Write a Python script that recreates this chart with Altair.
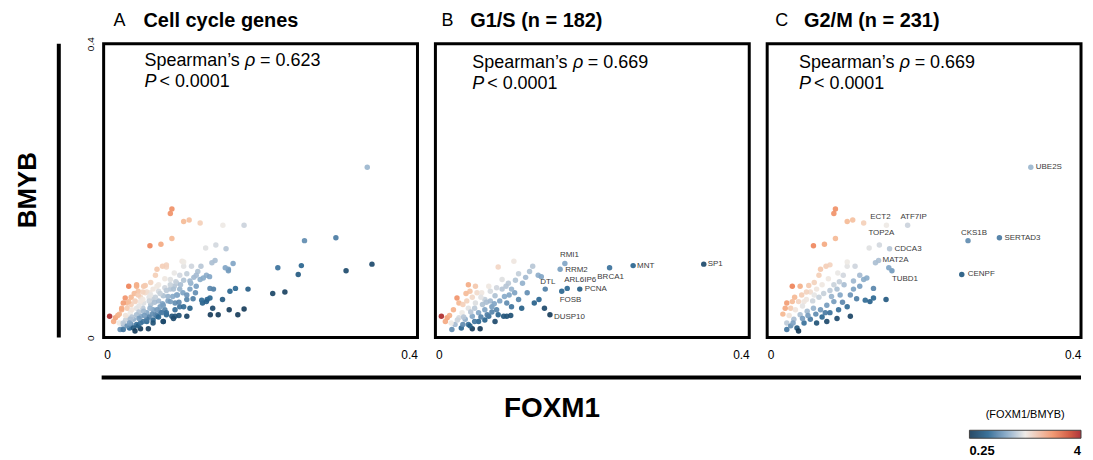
import altair as alt
import pandas as pd

FONT = "Liberation Sans"
W, H = 315, 295

# ---------------- data ----------------
# G1/S genes (panel B); first entries are the labelled genes
g1s_labels = ["SP1", "MNT", "BRCA1", "RMI1", "RRM2", "ARL6IP6", "PCNA", "FOSB", "DTL", "DUSP10"]
g1s_foxm1 = [0.342, 0.252, 0.222, 0.165, 0.159, 0.168, 0.184, 0.161, 0.140, 0.146,
             0.100, 0.080, 0.124, 0.131, 0.135, 0.106, 0.111, 0.117, 0.126, 0.132,
             0.139, 0.110, 0.097, 0.091, 0.042, 0.051, 0.044, 0.053, 0.0275, 0.030,
             0.023, 0.0076, 0.015, 0.0127, 0.021, 0.033, 0.047, 0.057, 0.068, 0.078,
             0.087, 0.096, 0.091, 0.101, 0.085, 0.076, 0.063, 0.059, 0.068, 0.085,
             0.093, 0.097, 0.051, 0.042, 0.034, 0.038, 0.047, 0.055, 0.063, 0.072,
             0.025, 0.030, 0.042, 0.055, 0.063, 0.076, 0.080, 0.106, 0.020, 0.018,
             0.035, 0.040, 0.036, 0.045, 0.050, 0.060, 0.065, 0.070, 0.075, 0.082,
             0.088, 0.094, 0.072, 0.066, 0.058, 0.050, 0.044, 0.035, 0.028, 0.070,
             0.078, 0.090, 0.102, 0.115, 0.120, 0.058, 0.047, 0.039]
g1s_bmyb = [0.100, 0.098, 0.095, 0.101, 0.093, 0.067, 0.066, 0.063, 0.066, 0.031,
            0.104, 0.096, 0.097, 0.085, 0.083, 0.087, 0.074, 0.061, 0.047, 0.052,
            0.040, 0.040, 0.042, 0.029, 0.072, 0.070, 0.063, 0.061, 0.054, 0.047,
            0.038, 0.029, 0.027, 0.022, 0.011, 0.013, 0.012, 0.012, 0.029, 0.038,
            0.029, 0.030, 0.047, 0.061, 0.066, 0.057, 0.052, 0.061, 0.070, 0.079,
            0.074, 0.066, 0.047, 0.040, 0.034, 0.025, 0.029, 0.034, 0.038, 0.042,
            0.018, 0.027, 0.018, 0.022, 0.024, 0.022, 0.031, 0.052, 0.020, 0.030,
            0.045, 0.050, 0.028, 0.035, 0.040, 0.045, 0.048, 0.050, 0.046, 0.050,
            0.056, 0.058, 0.035, 0.031, 0.028, 0.022, 0.016, 0.018, 0.024, 0.063,
            0.068, 0.070, 0.078, 0.082, 0.090, 0.055, 0.055, 0.060]

# G2/M genes (panel C); first entries are the labelled genes
g2m_labels = ["UBE2S", "SERTAD3", "CKS1B", "CENPF", "ECT2", "ATF7IP", "TOP2A", "CDCA3", "MAT2A", "TUBD1"]
g2m_foxm1 = [0.336, 0.296, 0.256, 0.248, 0.152, 0.179, 0.143, 0.156, 0.142, 0.159,
             0.130, 0.155, 0.138, 0.087, 0.085, 0.102, 0.109, 0.123, 0.087, 0.059,
             0.073, 0.080, 0.075, 0.068, 0.066, 0.102, 0.097, 0.112, 0.118, 0.123,
             0.110, 0.032, 0.042, 0.053, 0.044, 0.055, 0.063, 0.025, 0.032, 0.023,
             0.040, 0.047, 0.089, 0.093, 0.106, 0.114, 0.125, 0.131, 0.085, 0.076,
             0.068, 0.059, 0.051, 0.042, 0.034, 0.025, 0.030, 0.038, 0.047, 0.055,
             0.063, 0.076, 0.089, 0.106, 0.091, 0.102, 0.074, 0.040, 0.025, 0.1355,
             0.1355, 0.127, 0.1515, 0.102, 0.030, 0.036, 0.045, 0.050, 0.058, 0.060,
             0.066, 0.072, 0.080, 0.085, 0.092, 0.098, 0.070, 0.078, 0.090, 0.060,
             0.050, 0.035, 0.028, 0.033, 0.045, 0.052, 0.062, 0.070, 0.080, 0.096,
             0.110, 0.118, 0.082, 0.020]
g2m_bmyb = [0.232, 0.136, 0.132, 0.086, 0.153, 0.153, 0.126, 0.121, 0.105, 0.091,
            0.122, 0.095, 0.102, 0.175, 0.169, 0.158, 0.160, 0.156, 0.135, 0.125,
            0.127, 0.099, 0.097, 0.093, 0.085, 0.097, 0.085, 0.097, 0.085, 0.079,
            0.077, 0.070, 0.070, 0.071, 0.058, 0.062, 0.066, 0.047, 0.049, 0.040,
            0.049, 0.049, 0.066, 0.058, 0.058, 0.053, 0.051, 0.049, 0.049, 0.044,
            0.038, 0.040, 0.036, 0.031, 0.025, 0.020, 0.016, 0.013, 0.020, 0.025,
            0.020, 0.022, 0.026, 0.029, 0.038, 0.042, 0.034, 0.009, 0.011, 0.067,
            0.054, 0.081, 0.052, 0.103, 0.040, 0.038, 0.043, 0.052, 0.050, 0.058,
            0.055, 0.060, 0.064, 0.072, 0.076, 0.072, 0.072, 0.080, 0.088, 0.075,
            0.062, 0.055, 0.030, 0.020, 0.026, 0.030, 0.032, 0.028, 0.034, 0.048,
            0.066, 0.070, 0.056, 0.032]

# additional cell-cycle genes only visible in panel A
cc_extra_foxm1 = [0.309, 0.2155, 0.231, 0.160, 0.179, 0.171, 0.136]
cc_extra_bmyb = [0.091, 0.060, 0.062, 0.038, 0.039, 0.031, 0.031]

rho_values = ["0.623", "0.669", "0.669"]
panel_letters = ["A", "B", "C"]
panel_titles = ["Cell cycle genes", "G1/S (n = 182)", "G2/M (n = 231)"]
axis_ticks = [0, 0.4]
legend_ticks = [0.25, 4]
color_stops = [0.25, 0.397, 0.63, 1, 1.587, 2.52, 4]
color_range = ["#173c5a", "#2a6792", "#86a9c8", "#eeeae6", "#f5b892", "#e8683f", "#a8232b"]

# ---------------- layout / style (not data) ----------------
label_place = {
    "SP1": ("left", 4, 0), "MNT": ("left", 4, 0), "BRCA1": ("center", 1, 9),
    "RMI1": ("left", -5, -8), "RRM2": ("left", 5, 1), "ARL6IP6": ("left", -3, -8),
    "PCNA": ("left", 5, 0), "FOSB": ("left", -2, 9), "DTL": ("left", -5, -7),
    "DUSP10": ("left", 4, 2),
    "UBE2S": ("left", 5, 0), "SERTAD3": ("left", 5, 0), "CKS1B": ("center", 6, -8),
    "CENPF": ("left", 6, 0), "ECT2": ("center", -6, -8), "ATF7IP": ("center", 6, -8),
    "TOP2A": ("center", 2, -12), "CDCA3": ("left", 5, 0), "MAT2A": ("left", 4, 0),
    "TUBD1": ("left", 0, 8),
}
text_left = [41, 37, 32]
text_top = [17, 19, 19]
letter_left = [10, 6, 8]
title_left = [40, 35, 37]
SPACING = 18


def make_df(xs, ys, labels):
    genes = list(labels) + [""] * (len(xs) - len(labels))
    return pd.DataFrame({"foxm1": xs, "bmyb": ys, "gene": genes})


df_b = make_df(g1s_foxm1, g1s_bmyb, g1s_labels)
df_c = make_df(g2m_foxm1, g2m_bmyb, g2m_labels)
df_a = make_df(g1s_foxm1 + g2m_foxm1 + cc_extra_foxm1,
               g1s_bmyb + g2m_bmyb + cc_extra_bmyb, [])

one = pd.DataFrame({"k": [0]})


def x_enc():
    return alt.X("foxm1:Q",
                 scale=alt.Scale(domain=[0, 0.4], nice=False, zero=False),
                 axis=alt.Axis(values=axis_ticks, labelFlush=True, ticks=False,
                               domain=False, grid=False, title=None, format="~g",
                               labelFontSize=12, labelPadding=12, labelFont=FONT,
                               labelColor="black"))


def y_enc(show):
    if show:
        ax = alt.Axis(values=axis_ticks, labelFlush=True, ticks=False, domain=False,
                      grid=False, title=None, format="~g", labelAngle=270,
                      labelFontSize=10, labelPadding=8, labelFont=FONT,
                      labelColor="black")
    else:
        ax = None
    return alt.Y("bmyb:Q", scale=alt.Scale(domain=[0, 0.4], nice=False, zero=False),
                 axis=ax)


def color_enc(show_legend):
    scale = alt.Scale(type="log", domain=color_stops, range=color_range,
                      interpolate="lab", clamp=True)
    if show_legend:
        leg = alt.Legend(orient="none", legendX=W - 112, legendY=367,
                         direction="horizontal", gradientLength=112,
                         gradientThickness=8, title="(FOXM1/BMYB)",
                         titleFontSize=11, titleFontWeight="normal",
                         titleFont=FONT, titleAnchor="middle", titlePadding=10,
                         values=legend_ticks, format="~g", labelFontSize=13,
                         labelFontWeight="bold", labelFont=FONT, labelOffset=7,
                         labelColor="black", padding=0,
                         gradientStrokeColor="#333", gradientStrokeWidth=1)
        return alt.Color("ratio:Q", scale=scale, legend=leg)
    return alt.Color("ratio:Q", scale=scale, legend=None)


def text_layer(txt, x, y, size, weight="normal", style="normal", align="left",
               angle=0, color="black"):
    return alt.Chart(one).mark_text(
        text=txt, font=FONT, fontSize=size, fontWeight=weight, fontStyle=style,
        align=align, baseline="middle", angle=angle, color=color
    ).encode(x=alt.value(x), y=alt.value(y))


def make_panel(i, df, labels, first=False, legend=False):
    base = alt.Chart(df).transform_calculate(ratio="datum.bmyb / datum.foxm1")
    pts = base.mark_circle(size=30, opacity=0.92).encode(
        x=x_enc(), y=y_enc(first), color=color_enc(legend))
    layers = [pts]
    for g in labels:
        align, dx, dy = label_place[g]
        layers.append(
            alt.Chart(df).transform_filter(alt.datum.gene == g).mark_text(
                font=FONT, fontSize=8, color="#3a3a3a", align=align,
                baseline="middle", dx=dx, dy=dy
            ).encode(x="foxm1:Q", y="bmyb:Q", text="gene:N"))
    tl, tt = text_left[i], text_top[i]
    layers += [
        text_layer("Spearman\u2019s", tl, tt, 18),
        text_layer("\u03c1", tl + 101, tt, 18, style="italic"),
        text_layer("= " + rho_values[i], tl + 116, tt, 18),
        text_layer("P", tl, tt + 21, 18, style="italic"),
        text_layer("< 0.0001", tl + 15, tt + 21, 18),
        text_layer(panel_letters[i], letter_left[i], -23, 18),
        text_layer(panel_titles[i], title_left[i], -23, 20, weight="bold"),
    ]
    if first:
        layers += [
            alt.Chart(one).mark_rule(color="black", strokeWidth=4).encode(
                x=alt.value(-45), y=alt.value(0), y2=alt.value(H)),
            alt.Chart(one).mark_rule(color="black", strokeWidth=4).encode(
                x=alt.value(-2), x2=alt.value(3 * W + 2 * SPACING),
                y=alt.value(H + 40)),
            text_layer("BMYB", -76, 147, 26, weight="bold", align="center",
                       angle=270),
            text_layer("FOXM1", 450, 367, 28, weight="bold", align="center"),
        ]
    return alt.layer(*layers).properties(width=W, height=H)


pa = make_panel(0, df_a, [], first=True)
pb = make_panel(1, df_b, g1s_labels)
pc = make_panel(2, df_c, g2m_labels, legend=True)

chart = alt.hconcat(pa, pb, pc, spacing=SPACING, bounds="flush").resolve_scale(
    color="independent"
).properties(
    padding={"left": 5, "top": 0, "right": 0, "bottom": 0}
).configure(font=FONT).configure_view(stroke="black", strokeWidth=3)

chart.save("out.html", embed_options={"renderer": "svg", "actions": False})
